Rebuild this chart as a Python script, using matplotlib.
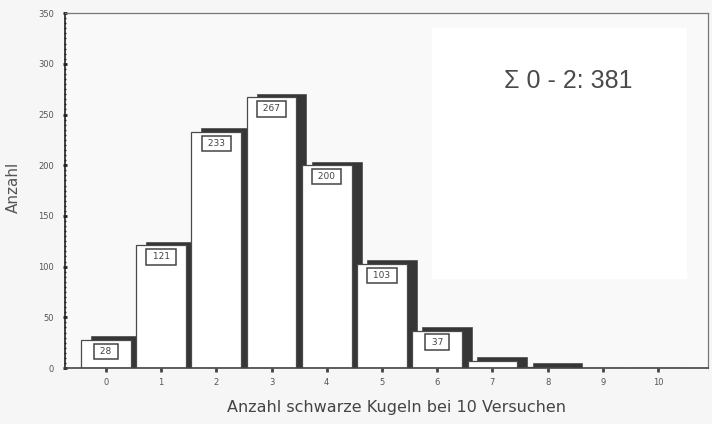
import matplotlib
matplotlib.use("Agg")
import matplotlib.pyplot as plt
from matplotlib.patches import Rectangle
from matplotlib.ticker import MultipleLocator

# Anzahl schwarzer Kugeln bei 10 Versuchen (1000 Durchgänge)
kugeln = list(range(11))
anzahl = [28, 121, 233, 267, 200, 103, 37, 7, 1, 0, 0]
beschriftet = [True, True, True, True, True, True, True, False, False, False, False]
summe_text = "\u03A3 0 - 2: 381"

fig = plt.figure(figsize=(7.12, 4.24), dpi=100, facecolor="#f6f6f6")
ax = fig.add_axes([0.0913, 0.132, 0.9027, 0.837], facecolor="#f9f9f9")

# hellere Fläche hinter der Summenangabe
ax.add_patch(Rectangle((0.571, 0.25), 0.396, 0.708, transform=ax.transAxes,
                       facecolor="#ffffff", edgecolor="none", zorder=0))

breite = 0.9
dx, dy = 0.18, 3.5

# dunkle Schattenbalken hinter den weißen Säulen
sx = [k + dx for k, v in zip(kugeln, anzahl) if v > 0]
sh = [v + dy for v in anzahl if v > 0]
ax.bar(sx, sh, width=breite, color="#363636", edgecolor="#4a4a4a",
       linewidth=0.5, zorder=1)

# weiße Säulen
ax.bar(kugeln, anzahl, width=breite, color="#ffffff", edgecolor="#4a4a4a",
       linewidth=0.9, zorder=2)

# Wertekästchen
for k, v, b in zip(kugeln, anzahl, beschriftet):
    if b:
        ax.text(k, v - 7, f" {v} ", ha="center", va="top", fontsize=6.5,
                color="#444444", zorder=3,
                bbox=dict(boxstyle="square,pad=0.35", facecolor="white",
                          edgecolor="#444444", linewidth=1.1))

ax.text(0.783, 0.808, summe_text, transform=ax.transAxes, ha="center",
        va="center", fontsize=18, color="#4a4a4a",
        family=["Liberation Sans", "DejaVu Sans"])

ax.set_xlim(-0.74, 10.9)
ax.set_ylim(0, 350)
ax.set_xticks(kugeln)
ax.yaxis.set_major_locator(MultipleLocator(50))
ax.yaxis.set_minor_locator(MultipleLocator(5))

ax.tick_params(axis="y", which="major", direction="inout", length=3.5,
               width=2, color="#222222", labelsize=6, labelcolor="#555555",
               pad=6)
ax.tick_params(axis="y", which="minor", direction="inout", length=2,
               width=1, color="#333333")
ax.tick_params(axis="x", which="major", direction="out", length=3,
               width=2, color="#444444", labelsize=6, labelcolor="#555555",
               pad=4)

for s in ("top", "right"):
    ax.spines[s].set_color("#777777")
    ax.spines[s].set_linewidth(0.9)
ax.spines["left"].set_color("#222222")
ax.spines["left"].set_linewidth(1.2)
ax.spines["bottom"].set_color("#444444")
ax.spines["bottom"].set_linewidth(1.2)

ax.set_ylabel("Anzahl", fontsize=11, color="#555555")
ax.yaxis.set_label_coords(-0.068, 0.51)
ax.set_xlabel("Anzahl schwarze Kugeln bei 10 Versuchen", fontsize=11.5,
              color="#444444")
ax.xaxis.set_label_coords(0.516, -0.09)

fig.savefig("out.png", dpi=100, facecolor=fig.get_facecolor())
